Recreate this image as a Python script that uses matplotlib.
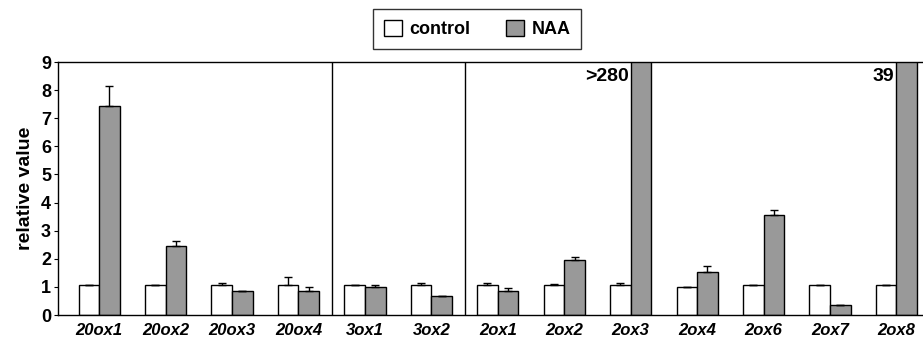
import numpy as np
import matplotlib
matplotlib.use('Agg')
import matplotlib.pyplot as plt

plt.rcParams['font.family'] = ['Liberation Sans', 'DejaVu Sans']

genes = ['20ox1', '20ox2', '20ox3', '20ox4', '3ox1', '3ox2',
         '2ox1', '2ox2', '2ox3', '2ox4', '2ox6', '2ox7', '2ox8']
control = [1.05, 1.05, 1.07, 1.06, 1.05, 1.05, 1.07, 1.05, 1.05, 0.98, 1.05, 1.05, 1.05]
control_err = [0.02, 0.02, 0.08, 0.3, 0.02, 0.1, 0.08, 0.07, 0.1, 0.02, 0.02, 0.0, 0.0]
naa = [7.45, 2.45, 0.85, 0.85, 1.0, 0.66, 0.85, 1.97, 280, 1.53, 3.55, 0.37, 39]
naa_err = [0.7, 0.18, 0.02, 0.13, 0.06, 0.02, 0.1, 0.1, 0.0, 0.2, 0.2, 0.0, 0.0]
off_scale = {8: '>280', 12: '39'}
separators = [3.5, 5.5]

x = np.arange(len(genes))
w = 0.31

fig = plt.figure(figsize=(9.23, 3.4), dpi=100)
ax = fig.add_axes([0.0628, 0.0735, 0.9372, 0.744])

ax.bar(x - w / 2, control, w, color='white', edgecolor='black', linewidth=1, label='control', zorder=2)
ax.bar(x + w / 2, naa, w, color='#999999', edgecolor='black', linewidth=1, label='NAA', zorder=2)
ax.errorbar(x - w / 2, control, yerr=[np.zeros(len(x)), control_err], fmt='none',
            ecolor='black', elinewidth=1, capsize=3, capthick=1, zorder=3)
ax.errorbar(x + w / 2, naa, yerr=[np.zeros(len(x)), naa_err], fmt='none',
            ecolor='black', elinewidth=1, capsize=3, capthick=1, zorder=3)

for i, txt in off_scale.items():
    ax.text(x[i] - 0.03, 8.5, txt, ha='right', va='center', fontsize=14, fontweight='bold')

for s in separators:
    ax.axvline(s, color='black', linewidth=1)

ax.set_xlim(-0.62, 12.4)
ax.set_ylim(0, 9)
ax.set_yticks(range(10))
ax.set_xticks(x)
ax.set_xticklabels(genes, fontsize=12, fontweight='bold', style='italic')
ax.tick_params(axis='x', length=0, pad=6)
ax.tick_params(axis='y', length=3, direction='out', labelsize=13, pad=2)
for lab in ax.get_yticklabels():
    lab.set_fontweight('bold')
ax.set_ylabel('relative value', fontsize=14, fontweight='bold', labelpad=5)
ax.spines['right'].set_visible(False)
for s in ['left', 'top', 'bottom']:
    ax.spines[s].set_linewidth(1)

fig.legend(loc='center', bbox_to_anchor=(0.517, 0.915), ncol=2, frameon=True, fancybox=False,
           edgecolor='black', prop={'weight': 'bold', 'size': 13}, handlelength=1.0,
           handleheight=1.0, handletextpad=0.4, columnspacing=2.0, borderpad=0.6)

fig.savefig('out.png', dpi=100)
